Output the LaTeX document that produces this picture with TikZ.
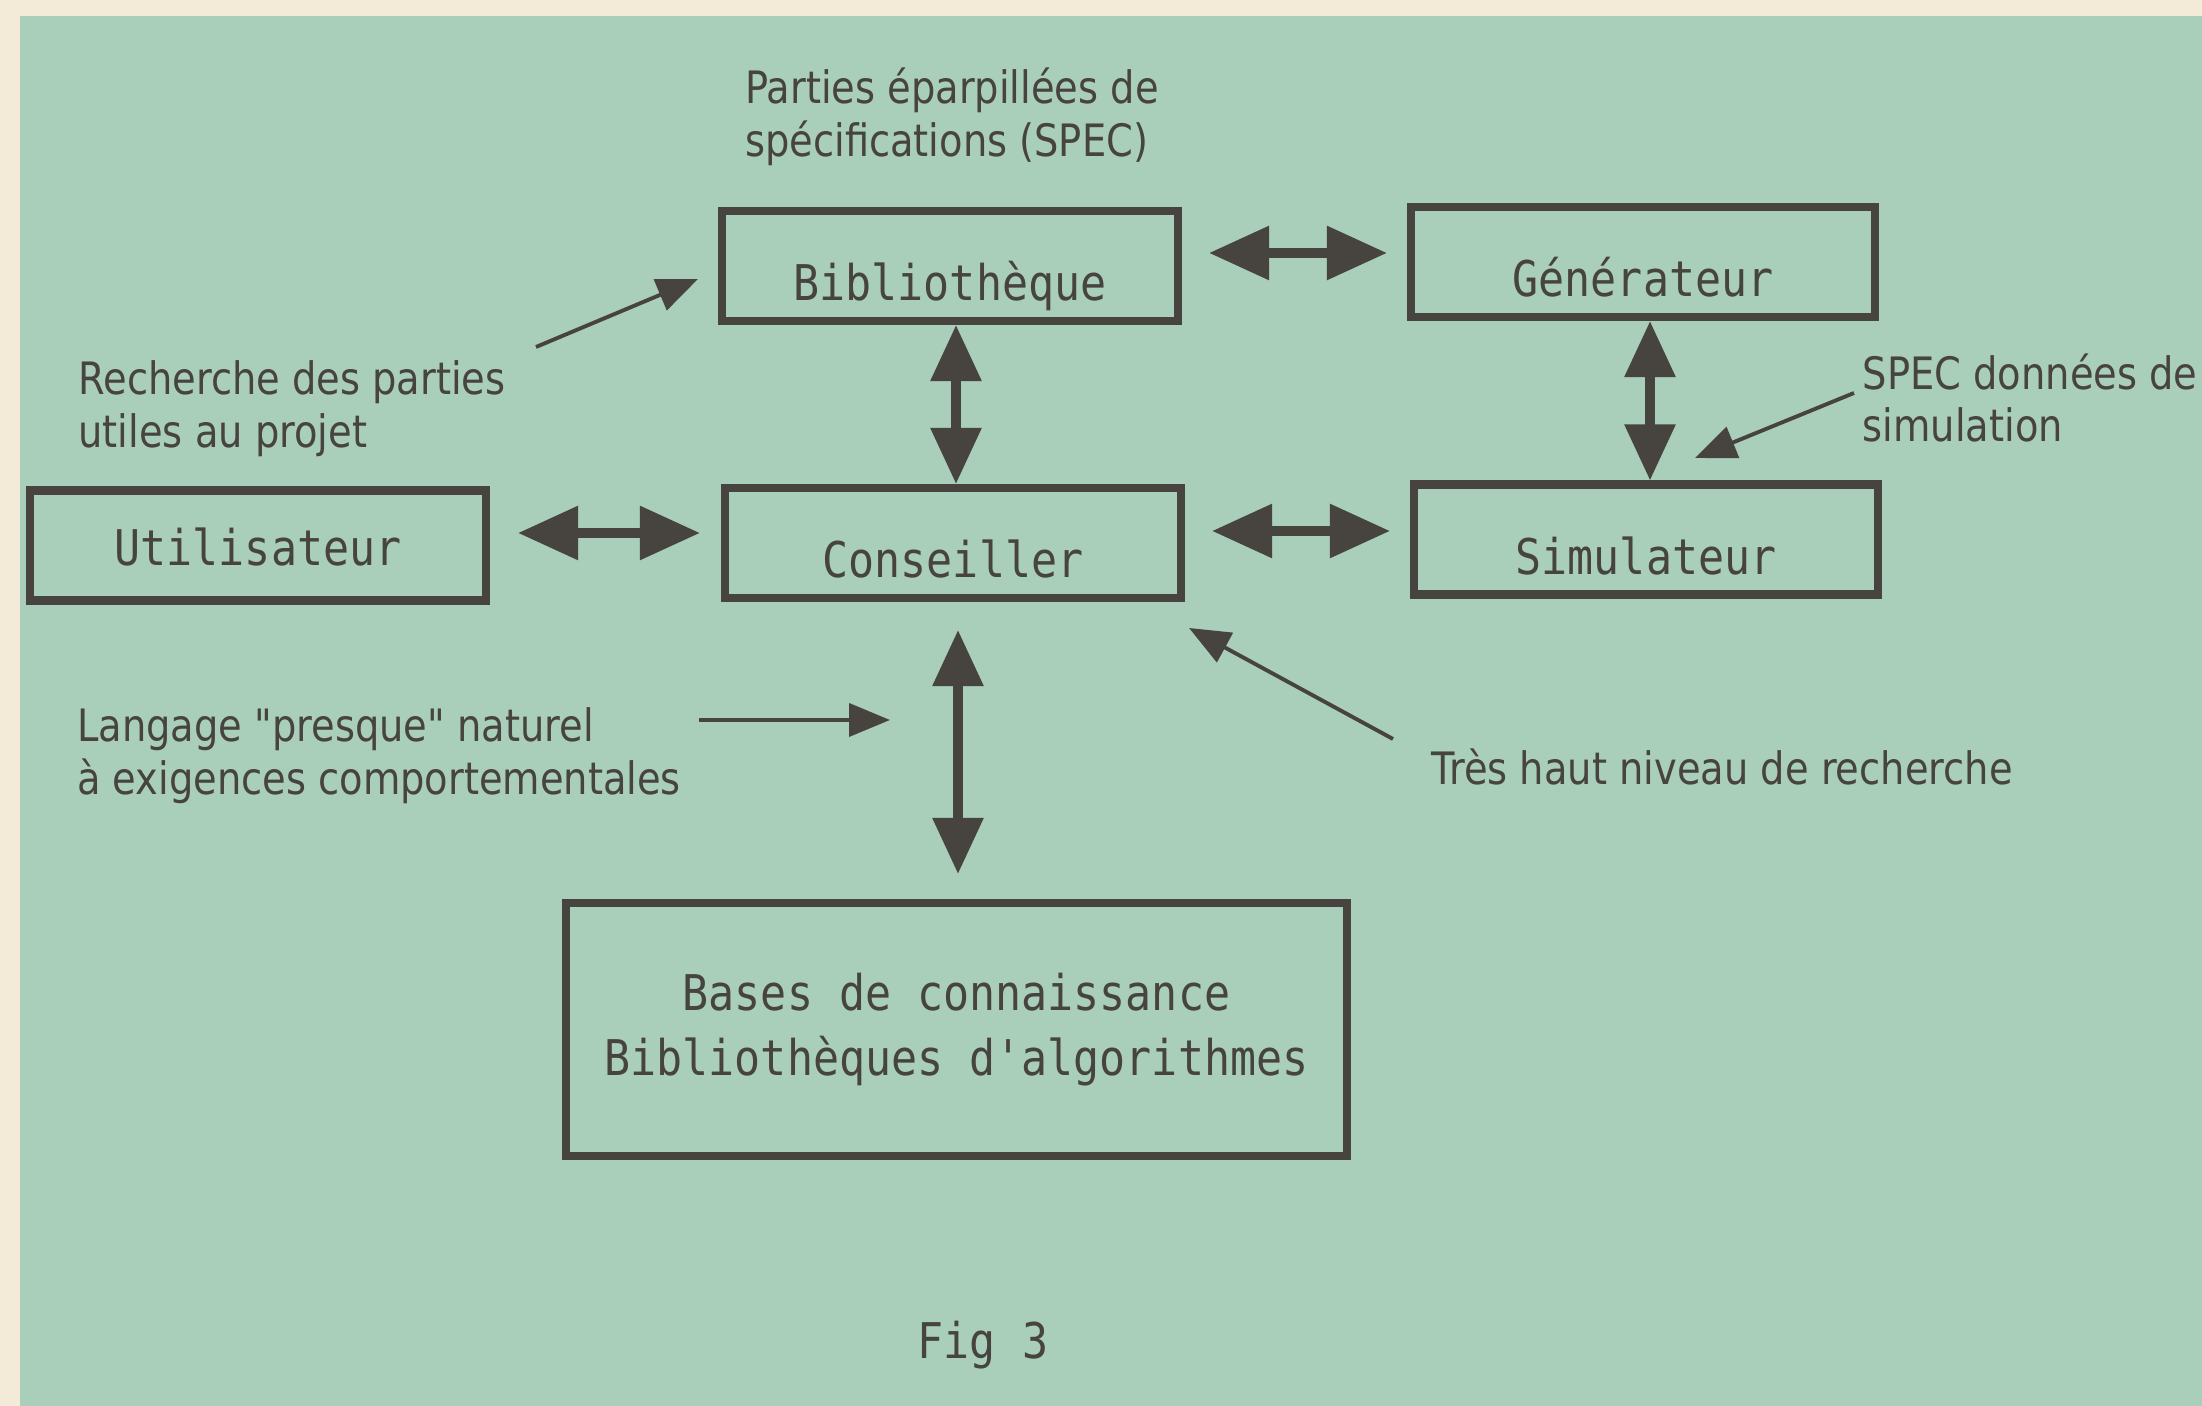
\documentclass[tikz,border=0pt]{standalone}
\usepackage{fontspec}
\newfontfamily\boxfont{DejaVu Sans Mono}[FakeStretch=0.88]
\newfontfamily\notefont{DejaVu Sans}[FakeStretch=0.86]
\usepackage{xcolor}
\definecolor{Paper}{HTML}{F3EBD8}
\definecolor{Sea}{HTML}{A9CEBA}
\definecolor{Ink}{HTML}{47433F}
\usetikzlibrary{arrows.meta, positioning}
\tikzset{
	line width = 1.6pt,
	box/.style={
		draw=Ink,
		line width=2.3pt,
		minimum width=4.56cm,
		minimum height=1.1cm,
		inner sep=0pt,
		text=Ink,
		font=\boxfont\fontsize{14}{18.5}\selectfont
	},
	low/.style={
		text height=0.7cm,
		text depth=0pt
	},
	note/.style={
		text=Ink,
		align=left,
		inner sep=0pt,
		font=\notefont\fontsize{12.7}{15}\selectfont
	},
	dbl/.style={
		{Triangle[length=0.6cm, width=0.52cm]}-{Triangle[length=0.6cm, width=0.52cm]},
		draw=Ink,
		line width=2.6pt
	},
	vdbl/.style={
		{Triangle[length=0.56cm, width=0.49cm]}-{Triangle[length=0.56cm, width=0.49cm]},
		draw=Ink,
		line width=2.6pt
	},
	pointer/.style={
		-{Triangle[length=0.41cm, width=0.33cm]},
		draw=Ink,
		line width=1.1pt
	}
}
\begin{document}
\begin{tikzpicture}
% ---
% paper and figure ground
% ---
\fill[Paper] (0,0) rectangle (22.02,14.06);
\fill[Sea] (0.2,0) rectangle (22.02,13.9);
\useasboundingbox (0,0) rectangle (22.02,14.06);

% ---
% blocks
% ---
\node[box, low] at (9.50,11.40) (bib) {Bibliothèque};
\node[box, low, minimum width=4.64cm] at (16.43,11.44) (gen) {Générateur};
\node[box, text height=0.4cm, text depth=0pt] at (2.58,8.605) (util) {Utilisateur};
\node[box, low] at (9.53,8.63) (cons) {Conseiller};
\node[box, low, minimum width=4.64cm] at (16.46,8.665) (sim) {Simulateur};
\node[box, align=center, minimum width=7.81cm, minimum height=2.53cm] at (9.565,3.765) (bases) {Bases de connaissance\\Bibliothèques d'algorithmes};

% ---
% notes
% ---
\node[note] at (9.52,12.89) (note-spec) {Parties éparpillées de\\spécifications (SPEC)};
\node[note] at (2.92,9.975) (note-rech) {Recherche des parties\\utiles au projet};
\node[note] at (3.79,6.505) (note-lang) {Langage "presque" naturel\\à exigences comportementales};
\node[note, anchor=west] at (18.62,10.08) (note-sim) {SPEC données de\\simulation};
\node[note] at (17.22,6.39) (note-tres) {Très haut niveau de recherche};
\node[box, draw=none, minimum width=0pt, minimum height=0pt] at (9.83,0.61) (fig) {Fig 3};

% ---
% exchanges
% ---
\draw[dbl, shorten <=0.27cm, shorten >=0.2cm] ([yshift=1.3mm]bib.east) to ([yshift=1.3mm]bib.east -| gen.west);
\draw[dbl, shorten <=0.28cm, shorten >=0.21cm] ([yshift=1.25mm]util.east) to ([yshift=1.25mm]util.east -| cons.west);
\draw[dbl, shorten <=0.27cm, shorten >=0.2cm] ([yshift=1.2mm]cons.east) to ([yshift=1.2mm]cons.east -| sim.west);
\draw[vdbl] ([xshift=.6mm]bib.south) to ([xshift=.6mm]bib.south |- cons.north);
\draw[vdbl] ([xshift=.7mm]gen.south) to ([xshift=.7mm]gen.south |- sim.north);
\draw[vdbl, shorten <=0.28cm, shorten >=0.25cm] ([xshift=.5mm]cons.south) to ([xshift=.5mm]cons.south |- bases.north);

% ---
% pointers
% ---
\coordinate (rech-tail) at (5.36,10.59);
\coordinate (rech-tip) at (6.98,11.27);
\coordinate (lang-tail) at (6.99,6.86);
\coordinate (lang-tip) at (8.90,6.86);
\coordinate (sim-tail) at (18.54,10.13);
\coordinate (sim-tip) at (16.95,9.48);
\coordinate (tres-tail) at (13.93,6.67);
\coordinate (tres-tip) at (11.89,7.78);
\draw[pointer] (rech-tail) to (rech-tip);
\draw[pointer] (lang-tail) to (lang-tip);
\draw[pointer] (sim-tail) to (sim-tip);
\draw[pointer] (tres-tail) to (tres-tip);
\end{tikzpicture}
\end{document}
